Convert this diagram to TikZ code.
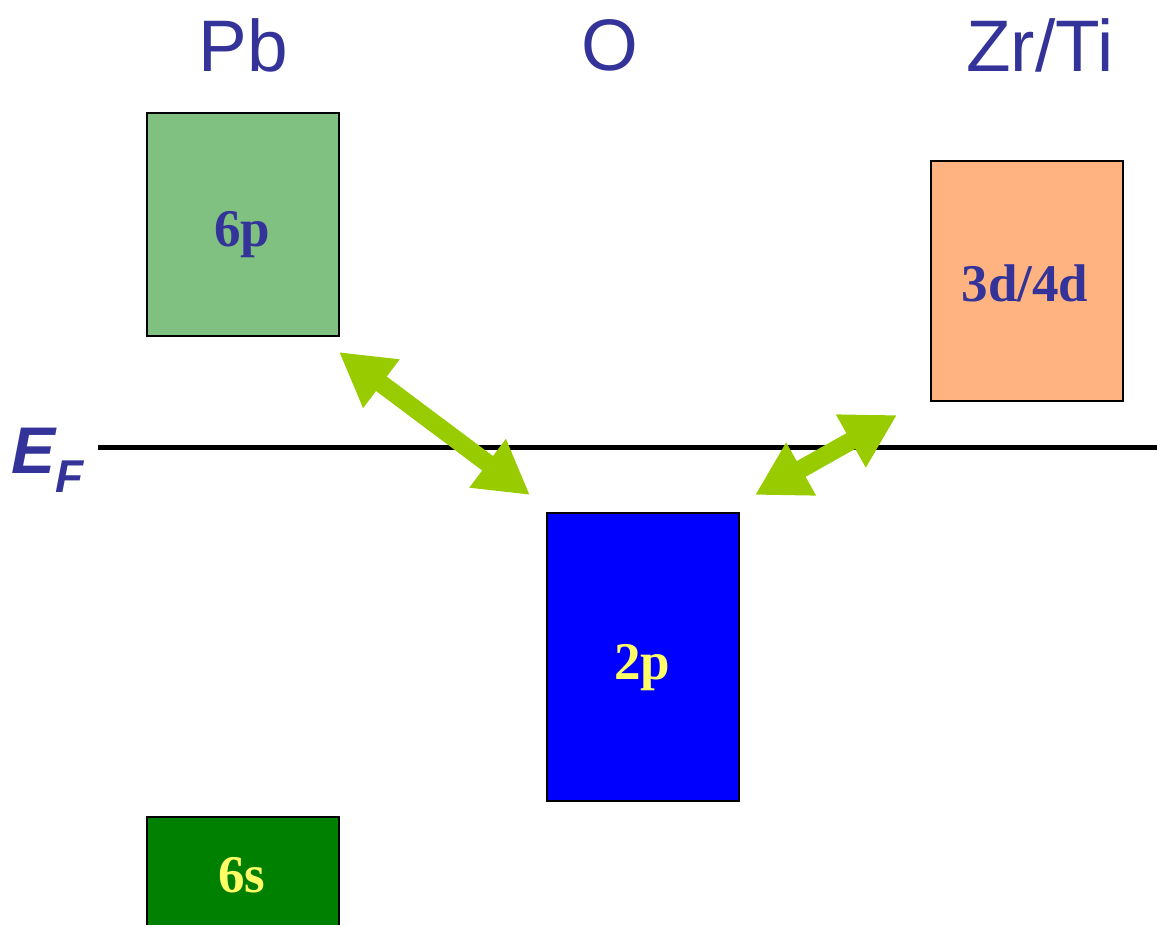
\documentclass[tikz,border=0pt]{standalone}
\usepackage{fontspec}
\setmainfont{Liberation Serif}
\setsansfont{Liberation Sans}
\usetikzlibrary{arrows.meta}
\definecolor{hdr}{HTML}{333399}
\definecolor{pgreen}{HTML}{80C080}
\definecolor{dorange}{HTML}{FFB380}
\definecolor{oblue}{HTML}{0000FF}
\definecolor{sgreen}{HTML}{008000}
\definecolor{lyellow}{HTML}{FFFF66}
\definecolor{arr}{HTML}{99CC00}
\begin{document}
\begin{tikzpicture}[x=1pt,y=-1pt,
  band/.style={draw=black,line width=1.5pt,minimum width=192pt,anchor=north west,inner sep=0pt},
  lbl/.style={font=\fontsize{53}{53}\selectfont\bfseries,inner sep=0pt},
  hdrtext/.style={text=hdr,font=\sffamily\fontsize{73}{73}\selectfont,inner sep=0pt},
  dbl/.style={arr,line width=18pt,{Triangle[length=53pt,width=57pt]}-{Triangle[length=53pt,width=57pt]}}]
\useasboundingbox (0,0) rectangle (1157,924);
\begin{scope}
\clip (0,0) rectangle (1157,924);
\node[band,fill=pgreen,minimum height=223pt] (p6) at (146,112) {};
\node[band,fill=dorange,minimum height=240pt] (d34) at (930,160) {};
\node[band,fill=oblue,minimum height=288pt] (p2) at (546,512) {};
\node[band,fill=sgreen,minimum height=124pt] (s6) at (146,816) {};
\end{scope}
\node[lbl,text=hdr,anchor=base] (p6t) at (242,246) {6p};
\node[lbl,text=hdr,anchor=base] (d34t) at (1025,301) {3d/4d};
\node[lbl,text=lyellow,anchor=base] (p2t) at (642,679) {2p};
\node[lbl,text=lyellow,anchor=base] (s6t) at (242,892) {6s};
\coordinate (efL) at (98,447);
\coordinate (efR) at (1157,447);
\draw[line width=5pt] (efL) -- (efR);
\node[text=hdr,font=\sffamily\bfseries\itshape\fontsize{66}{66}\selectfont,inner sep=0pt,anchor=base west] (ef) at (11,473) {E\raisebox{-0.3em}{\fontsize{46}{46}\selectfont F}};
\node[hdrtext] (pb) at (243,45) {Pb};
\node[hdrtext] (o) at (610,45) {O};
\node[hdrtext] (zr) at (1040,45) {Zr/Ti};
\coordinate (a1s) at (339,352);
\coordinate (a1e) at (530,495);
\coordinate (a2s) at (755,495);
\coordinate (a2e) at (897,415);
\draw[dbl] (a1s) -- (a1e);
\draw[dbl] (a2s) -- (a2e);
\end{tikzpicture}
\end{document}
